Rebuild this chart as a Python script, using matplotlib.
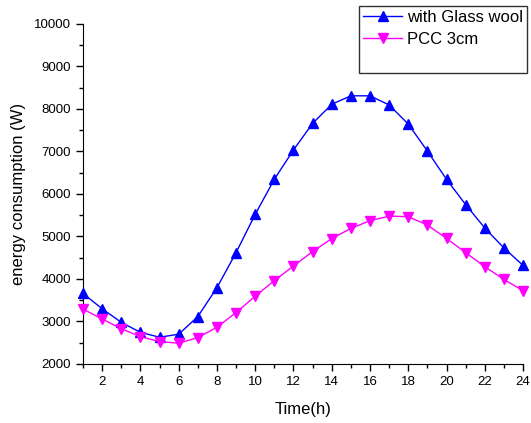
import matplotlib.pyplot as plt
from matplotlib.lines import Line2D
from matplotlib.ticker import MultipleLocator

plt.rcParams['font.family'] = ['Liberation Sans', 'DejaVu Sans']

hours = list(range(1, 25))
glass_wool = [3660, 3300, 2980, 2745, 2630, 2700, 3115, 3795, 4620, 5520,
              6345, 7035, 7660, 8110, 8310, 8310, 8095, 7645, 7010, 6345,
              5750, 5200, 4730, 4320]
pcc_3cm = [3290, 3060, 2830, 2645, 2525, 2490, 2620, 2865, 3210, 3595,
           3960, 4305, 4645, 4950, 5190, 5370, 5480, 5465, 5270, 4955,
           4620, 4290, 3990, 3725]

fig = plt.figure(figsize=(5.31, 4.23), dpi=100)
ax = fig.add_axes([0.1563, 0.1395, 0.8287, 0.8038])

l1, = ax.plot(hours, glass_wool, color='#0000ff', lw=1, marker='^', ms=7,
              label='with Glass wool', clip_on=False, zorder=3)
l2, = ax.plot(hours, pcc_3cm, color='#ff00ff', lw=1, marker='v', ms=7,
              label='PCC 3cm', clip_on=False, zorder=3)

ax.set_xlim(1, 24)
ax.set_ylim(2000, 10000)
ax.xaxis.set_major_locator(MultipleLocator(2))
ax.xaxis.set_minor_locator(MultipleLocator(1))
ax.yaxis.set_major_locator(MultipleLocator(1000))
ax.yaxis.set_minor_locator(MultipleLocator(500))
ax.tick_params(which='major', direction='out', length=5, width=1, labelsize=9.5)
ax.tick_params(which='minor', direction='out', length=3, width=1)

for side in ('top', 'right'):
    ax.spines[side].set_visible(False)

ax.set_xlabel('Time(h)', fontsize=12, labelpad=10)
ax.set_ylabel('energy consumption (W)', fontsize=12, labelpad=6)

# empty third row keeps the Origin-style legend box tall
blank = Line2D([], [], linestyle='none')
leg = ax.legend([l1, l2, blank], ['with Glass wool', 'PCC 3cm', ' '],
                loc='upper right', bbox_to_anchor=(1.009, 1.053), fontsize=12,
                frameon=True, fancybox=False, edgecolor='black',
                borderpad=0.25, labelspacing=0.42, handlelength=2.3,
                handletextpad=0.3, borderaxespad=0)
leg.get_frame().set_linewidth(1)

fig.savefig('out.png', dpi=100)
